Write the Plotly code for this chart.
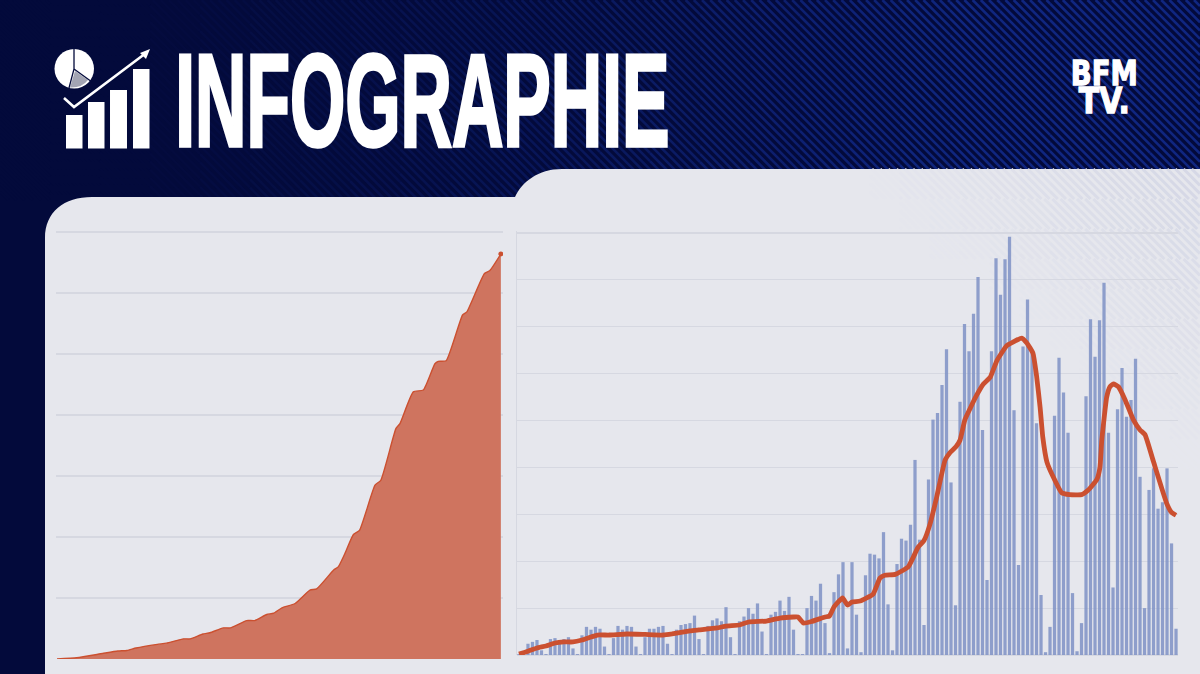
import plotly.graph_objects as go

W, H = 1200, 674

# ---------- data ----------
# cumulative series (left chart), grid unit = 100
cum_days = [0, 6.5, 15, 20, 23, 26, 33, 36, 41.6, 43.8, 48, 50.3, 54.7, 57, 62.4, 65, 69, 71.2, 74, 78.3,
            83.2, 85.4, 91, 92.5, 94.7, 97.5, 99.5, 104.6, 106.5, 111.5, 112.8, 117.2, 120.5, 124.3, 125.4,
            128, 133.4, 134.8, 140.6, 142.4, 146]
cum_values = [0, 2, 9, 13, 14, 18, 24, 26, 33, 33, 41, 43, 51, 51, 63, 63, 73, 75, 84, 91,
              113, 115, 146, 151, 173, 204, 211, 285, 293, 378, 386, 438, 441, 484, 488,
              489, 564, 569, 632, 637, 664]

# daily bars (right chart), grid unit = 50
daily_values = [1, 3, 12, 14, 16, 5, 1, 17, 18, 13, 17, 19, 7, 1, 21, 30, 27, 30, 28, 9, 1,
                18, 31, 27, 31, 30, 9, 1, 19, 28, 28, 30, 31, 12, 1, 27, 32, 33, 34, 42, 17, 1,
                31, 37, 39, 36, 51, 19, 1, 36, 41, 50, 44, 55, 25, 1, 43, 46, 58, 47, 62, 27, 1,
                1, 50, 63, 58, 76, 34, 2, 67, 86, 99, 7, 99, 43, 3, 85, 108, 107, 103, 131, 54, 5,
                97, 124, 122, 139, 208, 123, 32, 187, 251, 258, 288, 326, 184, 53, 270, 353, 324, 364, 403, 240, 80,
                324, 423, 384, 422, 446, 261, 96, 329, 379, 322, 247, 64, 3, 30, 255, 317, 280, 237, 66, 4,
                34, 276, 358, 318, 357, 397, 237, 72, 262, 306, 254, 272, 316, 190, 50, 176, 199, 156, 163, 199, 119, 28]
daily_days = list(range(len(daily_values)))

# smoothed curve (right chart)
avg_days = [0, 2, 4, 6, 8, 10, 12, 14, 16, 17.4, 20, 24, 28, 32, 34, 38, 40, 44, 46, 49, 51, 55, 58, 61, 62,
            63.2, 65, 68, 69, 70, 71.9, 73, 74, 75.8, 78.7, 80.2, 81.3, 83.6, 86.5, 88.7, 90, 91.3, 92.8, 94.7,
            95.8, 97.1, 98, 99.1, 101.7, 103.2, 104.7, 106.2, 108.4, 109.9, 111.7, 112.8, 114.2, 115, 115.8,
            116.4, 117.3, 118.7, 120.6, 122.4, 125, 126.5, 128.4, 129.1, 129.5, 130.6, 131.3, 132.1, 133.2,
            134.7, 136.5, 138, 139.1, 141, 143.9, 145, 146]
avg_values = [1, 4, 7.5, 9.6, 12.8, 13.9, 13.9, 16, 19.2, 21.3, 21.3, 22.4, 21.9, 21.3, 22.4, 25.6, 26.7, 28.8,
              30.9, 32, 35.2, 36.2, 39.4, 40.5, 40.5, 34.1, 35.7, 40.5, 41.6, 51.2, 60.8, 53.3, 56.5, 57.6, 65,
              82, 85, 86, 94, 115, 122, 139, 168, 208, 216, 222, 229, 251, 277, 289, 296, 314, 330, 334, 338,
              333, 322, 298, 264, 232, 206, 190, 173, 171, 171, 176, 187, 200, 229, 275, 286, 289, 286, 272,
              251, 240, 235, 206, 162, 152, 149]

TITLE = "INFOGRAPHIE"
LOGO_TOP = "BFM"
LOGO_BOTTOM = "TV."

NAVY = "#030a3b"
PANEL = "#e6e7ed"
GRID = "#d6d8e1"
RED = "#cb5030"
FILL = "#cf745f"
BAR = "#7f92c6"


# ---------- helpers (pixel -> paper) ----------
def X(x):
    return round(x / W, 5)


def Y(y):
    return round(1 - y / H, 5)


def P(x, y):
    return f"{X(x)},{Y(y)}"


def stripes(x0, x1, y0, y1, period, color, width):
    d = []
    c = -y1
    while c < x1:
        a = max(x0, c + y0)
        b = min(x1, c + y1)
        if b > a:
            d.append(f"M{P(a, a - c)} L{P(b, b - c)}")
        c += period
    return dict(type="path", xref="paper", yref="paper", path=" ".join(d),
                line=dict(color=color, width=width), layer="below")


def mix(a, b, t):
    return "#%02x%02x%02x" % tuple(round(p + (q - p) * t) for p, q in zip(a, b))


def rect(x0, y0, x1, y1, color):
    return dict(type="rect", xref="paper", yref="paper", x0=X(x0), x1=X(x1), y0=Y(y0), y1=Y(y1),
                fillcolor=color, line_width=0, layer="above")


def path(d, fill=None, line=None, width=0, layer="above"):
    s = dict(type="path", xref="paper", yref="paper", path=d, line=dict(color=line or "rgba(0,0,0,0)", width=width),
             layer=layer)
    if fill:
        s["fillcolor"] = fill
    return s


shapes = []
# striped header
BANDS = 24
for b in range(BANDS):
    t = (b + 0.5) / BANDS
    col = mix((3, 10, 59), (16, 38, 128), min(1, max(0, (t - 0.08) / 0.72)) ** 1.3)
    shapes.append(stripes(b * W / BANDS, (b + 1) * W / BANDS, 0, 200, 8.2, col, 2.6))

# panels
shapes.append(path(
    f"M{P(45, 674)} L{P(45, 238)} C{P(45, 212)} {P(64, 197)} {P(92, 197)} L{P(515, 197)} "
    f"C{P(522, 182)} {P(538, 169)} {P(562, 169)} L{P(1200, 169)} L{P(1200, 674)} Z",
    fill=PANEL, layer="below"))
# faint stripes fading out from the panel's top right corner
CELL = 30
for ix in range(12):
    for iy in range(10):
        x0 = 840 + ix * CELL
        y0 = 169 + iy * CELL
        t = max(0.0, (ix + 0.5) / 12 - (iy + 0.5) / 10)
        if t > 0:
            shapes.append(stripes(x0, x0 + CELL, y0, y0 + CELL, 8.2, mix((230, 231, 238), (212, 215, 229), t), 3))

# icon: bars
for x0, x1, top in [(66, 82.5, 115), (88, 104.5, 102), (110, 127, 90), (133, 149.5, 69)]:
    shapes.append(rect(x0, top, x1, 148.5, "#ffffff"))
# icon: pie
shapes.append(dict(type="circle", xref="paper", yref="paper", x0=X(54.5), x1=X(94), y0=Y(49), y1=Y(88.5),
                   fillcolor="#ffffff", line_width=0, layer="above"))
shapes.append(path(f"M{P(75, 71)} L{P(70, 87.5)} Q{P(82, 88)} {P(88, 80)} Z", fill="#a3a5b3"))
shapes.append(path(f"M{P(74, 49)} L{P(74, 69)} L{P(69, 88)} M{P(74, 69)} L{P(92, 82)}", line=NAVY, width=1.3))
# icon: arrow
shapes.append(path(f"M{P(64, 98)} L{P(74, 107)} L{P(146, 53)}", line=NAVY, width=6))
shapes.append(path(f"M{P(64, 98)} L{P(74, 107)} L{P(146, 53)}", line="#ffffff", width=2.6))
shapes.append(path(f"M{P(150, 49)} L{P(140, 53)} L{P(146, 59)} Z", fill="#ffffff"))

annotations = [
    dict(text=f"<b>{TITLE}</b>", x=X(422), y=Y(101), xref="paper", yref="paper", xanchor="center", yanchor="middle",
         showarrow=False, font=dict(family="Liberation Sans Narrow, Liberation Sans", size=132, color="#ffffff")),
    dict(text=f"<b><span style='font-size:33px'>{LOGO_TOP}</span><br><span style='font-size:36px'>{LOGO_BOTTOM}</span></b>",
         x=X(1105), y=Y(88), xref="paper", yref="paper", xanchor="center", yanchor="middle", showarrow=False,
         font=dict(family="DejaVu Sans", size=33, color="#ffffff")),
]

fig = go.Figure()
fig.add_trace(go.Scatter(x=cum_days, y=cum_values, mode="lines", fill="tozeroy", fillcolor=FILL,
                         line=dict(color=RED, width=1.4, shape="spline", smoothing=0.5),
                         xaxis="x", yaxis="y", hoverinfo="skip"))
fig.add_trace(go.Scatter(x=cum_days[-1:], y=cum_values[-1:], mode="markers", marker=dict(color=RED, size=5),
                         xaxis="x", yaxis="y", hoverinfo="skip"))
fig.add_trace(go.Bar(x=daily_days, y=daily_values, marker=dict(color=BAR, line_width=0), opacity=0.85,
                     width=0.72, xaxis="x2", yaxis="y2", hoverinfo="skip"))
fig.add_trace(go.Scatter(x=avg_days, y=avg_values, mode="lines",
                         line=dict(color=RED, width=4.8, shape="spline", smoothing=0.4),
                         xaxis="x2", yaxis="y2", hoverinfo="skip"))

hidden = dict(showticklabels=False, ticks="", showline=False, zeroline=False, showgrid=False)
fig.update_layout(
    width=W, height=H, margin=dict(l=0, r=0, t=0, b=0), autosize=False,
    paper_bgcolor=NAVY, plot_bgcolor="rgba(0,0,0,0)", showlegend=False,
    xaxis=dict(domain=[X(56), X(503)], range=[-0.33, 146.7], **hidden),
    yaxis=dict(domain=[Y(659), Y(230.2)], range=[0, 703], dtick=100, showgrid=True, gridcolor=GRID, gridwidth=1.2,
               showticklabels=False, ticks="", zeroline=False, showline=False),
    xaxis2=dict(domain=[X(517), X(1178)], range=[-0.44, 146.44], anchor="y2", **hidden),
    yaxis2=dict(domain=[Y(655), Y(231.1)], range=[0, 452], dtick=50, showgrid=True, gridcolor=GRID, gridwidth=1.2,
                showticklabels=False, ticks="", zeroline=True, zerolinecolor=GRID, showline=True, linecolor=GRID,
                anchor="x2"),
    shapes=shapes, annotations=annotations,
)

POST = """
document.body.style.margin='0';
document.body.style.overflow='hidden';
var t=document.querySelectorAll('.annotation-text');
var a=t[0];
a.style.fontKerning='none';
a.setAttribute('textLength',494);
a.setAttribute('lengthAdjust','spacingAndGlyphs');
a.style.stroke='#ffffff'; a.style.strokeWidth='3.6px';
var b=t[1];
b.style.stroke='#ffffff'; b.style.strokeWidth='1.3px';
var m=b.getScreenCTM();
var lines=b.querySelectorAll('tspan.line');
var base=[85,113.5];
lines.forEach(function(l,i){
  l.removeAttribute('dy');
  l.setAttribute('y',(base[i]-m.f)/m.d);
});
var cx=parseFloat(b.getAttribute('x'));
b.setAttribute('transform','translate('+cx+',0) scale(0.83,1) translate('+(-cx)+',0)');
"""
fig.write_html("out.html", config=dict(displayModeBar=False, staticPlot=True), post_script=POST)
